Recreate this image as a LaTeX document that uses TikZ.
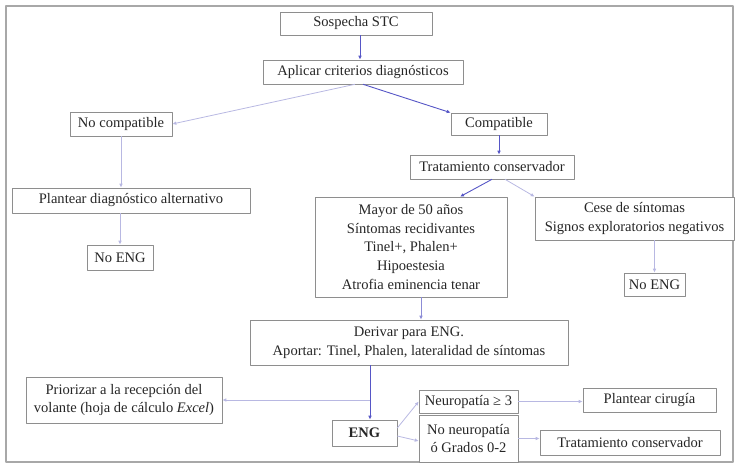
\documentclass[tikz,border=0pt]{standalone}
\usepackage{fontspec}
\setmainfont{Liberation Serif}
\usepackage{tikz}
\usetikzlibrary{arrows.meta}
\definecolor{boxline}{HTML}{8E8E8E}
\definecolor{frameline}{HTML}{A8A8A8}
\definecolor{mainblue}{HTML}{5656C6}
\definecolor{paleblue}{HTML}{B8B8E2}
\definecolor{midblue}{HTML}{8C8CD6}

\begin{document}
\begin{tikzpicture}[>={Latex[length=4bp,width=3.6bp]},line join=bevel,
  box/.style={draw=boxline,line width=0.6bp,fill=white,align=center,inner sep=1bp,
    font=\fontsize{14.6}{19}\selectfont,text=black!85},
  mainarrow/.style={mainblue,line width=0.9bp,->},
  palearrow/.style={paleblue,line width=0.8bp,->},
  midarrow/.style={midblue,line width=0.8bp,->}]
%%
\useasboundingbox (0bp,0bp) rectangle (736bp,466bp);
\draw [frameline,line width=1.4bp] (6bp,4bp) rectangle (733bp,460bp);
%%
\node (sospecha) at (356bp,442.5bp) [box,minimum width=152bp,minimum height=23bp] {Sospecha STC};
  \node (aplicar) at (363bp,394bp) [box,minimum width=200bp,minimum height=24bp] {Aplicar criterios diagnósticos};
  \node (nocomp) at (121bp,342bp) [box,minimum width=102bp,minimum height=24bp] {No compatible};
  \node (comp) at (499bp,342bp) [box,minimum width=96bp,minimum height=22bp] {Compatible};
  \node (trat) at (492bp,299bp) [box,minimum width=164bp,minimum height=24bp] {Tratamiento conservador};
  \node (plantear) at (131bp,265.5bp) [box,minimum width=238bp,minimum height=25bp] {Plantear diagnóstico alternativo};
  \node (mayor) at (411bp,219bp) [box,minimum width=192bp,minimum height=100bp] {Mayor de 50 años\\Síntomas recidivantes\\Tinel+, Phalen+\\Hipoestesia\\Atrofia eminencia tenar};
  \node (cese) at (634.5bp,247.5bp) [box,minimum width=199bp,minimum height=43bp] {Cese de síntomas\\Signos exploratorios negativos};
  \node (noengA) at (120bp,208.5bp) [box,minimum width=66bp,minimum height=25bp] {No ENG};
  \node (noengB) at (654.5bp,181.5bp) [box,minimum width=61bp,minimum height=23bp] {No ENG};
  \node (derivar) at (409bp,123.5bp) [box,minimum width=318bp,minimum height=45bp] {Derivar para ENG.\\Aportar: Tinel, Phalen, lateralidad de síntomas};
  \node (priorizar) at (124bp,66bp) [box,minimum width=196bp,minimum height=46bp] {Priorizar a la recepción del\\volante (hoja de cálculo \textit{Excel})};
  \node (eng) at (364.5bp,33bp) [box,minimum width=65bp,minimum height=26bp] {\textbf{ENG}};
  \node (neuro) at (468.5bp,64.5bp) [box,minimum width=99bp,minimum height=23bp] {Neuropatía ≥ 3};
  \node (noneuro) at (468.5bp,27.5bp) [box,minimum width=99bp,minimum height=47bp] {No neuropatía\\ó Grados 0-2};
  \node (cirugia) at (649.5bp,66bp) [box,minimum width=133bp,minimum height=24bp] {Plantear cirugía};
  \node (tratB) at (630bp,23.5bp) [box,minimum width=180bp,minimum height=25bp] {Tratamiento conservador};
  \coordinate (split) at (370bp,66bp);
%%
  \draw [mainarrow] ([xshift=4bp]sospecha.south) -- ([xshift=-3bp]aplicar.north);
  \draw [mainarrow] (aplicar.south) -- (comp.north west);
  \draw [palearrow] ([xshift=-8bp]aplicar.south) -- (nocomp.east);
  \draw [mainarrow] (comp.south) -- (trat.north -| comp.south);
  \draw [mainarrow] (trat.south) -- ([xshift=49bp]mayor.north);
  \draw [palearrow] ([xshift=13bp]trat.south) -- (cese.north west);
  \draw [palearrow] (nocomp.south) -- (plantear.north -| nocomp.south);
  \draw [palearrow] (plantear.south -| noengA.north) -- (noengA.north);
  \draw [palearrow] (cese.south -| noengB.north) -- (noengB.north);
  \draw [midarrow] ([xshift=10bp]mayor.south) -- ([xshift=12bp]derivar.north);
  \draw [mainarrow] (derivar.south -| split) -- (eng.north -| split);
  \draw [palearrow] (split) -- (priorizar.east);
  \draw [palearrow] ([yshift=5bp]eng.east) -- (neuro.west);
  \draw [palearrow] ([yshift=-3bp]eng.east) -- ([yshift=-2.5bp]noneuro.west);
  \draw [palearrow] (neuro.east) -- (neuro.east -| cirugia.west);
  \draw [palearrow] (noneuro.east) -- (noneuro.east -| tratB.west);
%
\end{tikzpicture}
\end{document}
